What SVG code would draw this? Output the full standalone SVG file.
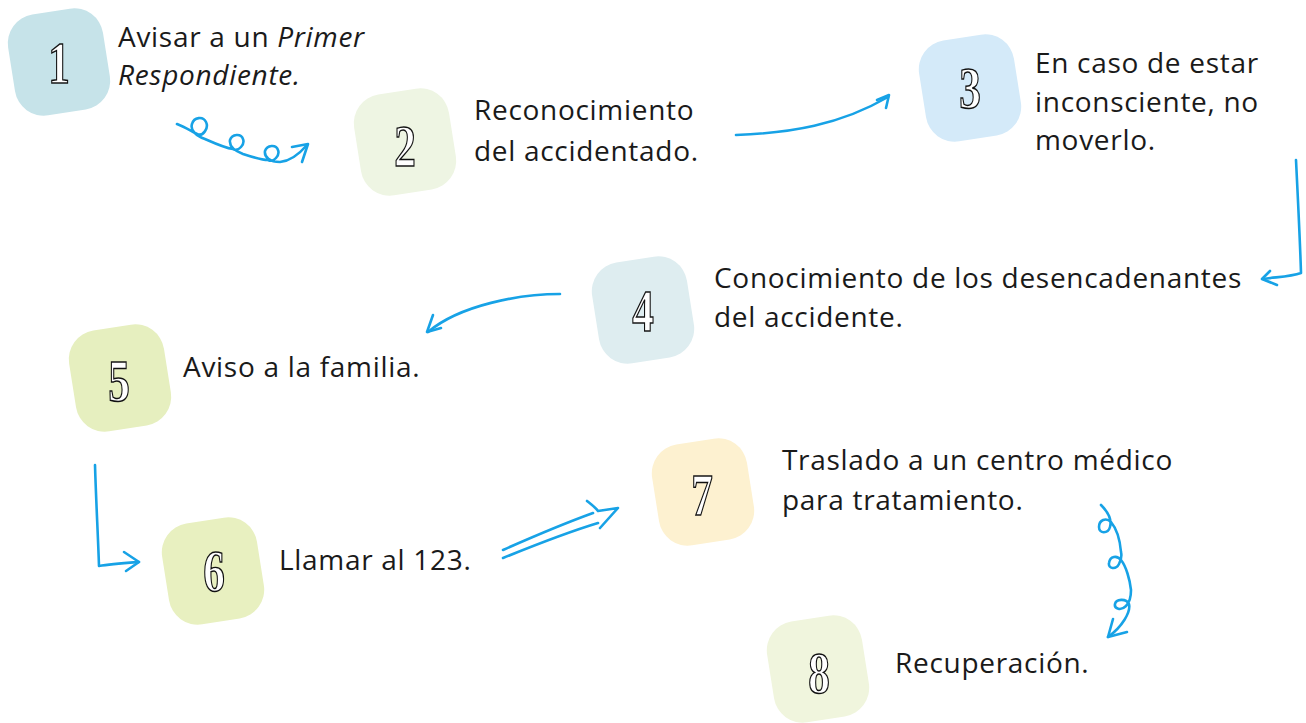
<svg xmlns="http://www.w3.org/2000/svg" width="1306" height="723" viewBox="0 0 1306 723">
<style>
.box{stroke:none}
.lbl{font-family:"Open Sans","Liberation Sans",sans-serif;font-size:28px;letter-spacing:0.7px;fill:#1a1a1a}
.num{font-family:"Liberation Serif","DejaVu Serif",serif;font-size:60px;font-weight:bold;fill:#ffffff;stroke:#111;stroke-width:1.5;text-anchor:middle}
.con{fill:none;stroke:#17a2e6;stroke-width:2.6;stroke-linecap:round;stroke-linejoin:round}
</style>
<rect width="1306" height="723" fill="#ffffff"/>

<g id="node1">
<rect class="box" x="11" y="11" width="96" height="102" rx="29" fill="#c6e3e9" transform="rotate(-9 59 62)"/>
<text class="num" transform="translate(59 83) scale(0.72 1)">1</text>
<text class="lbl" x="118" y="47">Avisar a un <tspan font-style="italic">Primer</tspan></text>
<text class="lbl" x="118" y="85" font-style="italic">Respondiente.</text>
</g>

<g id="node2">
<rect class="box" x="357" y="91" width="96" height="102" rx="29" fill="#eef5e3" transform="rotate(-9 405 142)"/>
<text class="num" transform="translate(405 166) scale(0.72 1)">2</text>
<text class="lbl" x="474" y="120">Reconocimiento</text>
<text class="lbl" x="474" y="161">del accidentado.</text>
</g>

<g id="node3">
<rect class="box" x="922" y="37" width="96" height="102" rx="29" fill="#d4eaf9" transform="rotate(-9 970 88)"/>
<text class="num" transform="translate(970 108) scale(0.72 1)">3</text>
<text class="lbl" x="1035" y="73">En caso de estar</text>
<text class="lbl" x="1035" y="112">inconsciente, no</text>
<text class="lbl" x="1035" y="150">moverlo.</text>
</g>

<g id="node4">
<rect class="box" x="595" y="259" width="96" height="102" rx="29" fill="#deedf0" transform="rotate(-9 643 310)"/>
<text class="num" transform="translate(643 331) scale(0.72 1)">4</text>
<text class="lbl" x="714" y="288">Conocimiento de los desencadenantes</text>
<text class="lbl" x="714" y="327">del accidente.</text>
</g>

<g id="node5">
<rect class="box" x="72" y="327" width="96" height="102" rx="29" fill="#e6efbf" transform="rotate(-9 120 378)"/>
<text class="num" transform="translate(119 401) scale(0.72 1)">5</text>
<text class="lbl" x="183" y="377">Aviso a la familia.</text>
</g>

<g id="node6">
<rect class="box" x="165" y="520" width="96" height="102" rx="29" fill="#e8f0c0" transform="rotate(-9 213 571)"/>
<text class="num" transform="translate(214 591) scale(0.72 1)">6</text>
<text class="lbl" x="279" y="570">Llamar al 123.</text>
</g>

<g id="node7">
<rect class="box" x="655" y="441" width="96" height="102" rx="29" fill="#fdf1d0" transform="rotate(-9 703 492)"/>
<text class="num" transform="translate(702 515) scale(0.72 1)">7</text>
<text class="lbl" x="782" y="470">Traslado a un centro médico</text>
<text class="lbl" x="782" y="510">para tratamiento.</text>
</g>

<g id="node8">
<rect class="box" x="770" y="618" width="96" height="102" rx="29" fill="#f0f5dd" transform="rotate(-9 818 669)"/>
<text class="num" transform="translate(819 693) scale(0.72 1)">8</text>
<text class="lbl" x="895" y="673">Recuperación.</text>
</g>

<g id="connectors">
<path class="con" d="M177,124 C185,127 191,131 197,134 C203,137 209,128 206,122 C203,116 194,117 192,124 C190,130 196,136 205,139 C214,143 225,148 233,149 C239,152 245,144 243,139 C241,133 232,134 230,140 C229,146 235,151 243,154 C252,157 261,160 268,160 C274,163 280,155 278,150 C276,144 267,145 265,151 C264,157 270,162 280,162 C292,161 301,152 307,145"/>
<path class="con" d="M292,147 L308,144 L302,162"/>

<path class="con" d="M736,135 C790,133 840,125 888,97"/>
<path class="con" d="M877,100 L889,95 L886,108"/>

<path class="con" d="M1296,160 C1298,200 1300,240 1301,273 C1290,277 1275,277 1263,279"/>
<path class="con" d="M1270,271 L1262,279 L1277,285"/>

<path class="con" d="M560,294 C520,294 460,305 428,332"/>
<path class="con" d="M433,315 L427,332 L441,328"/>

<path class="con" d="M95,465 C96,500 98,535 99,566 C110,564 125,563 139,562"/>
<path class="con" d="M124,552 L139,562 L126,571"/>

<path class="con" d="M503,550 C530,538 560,525 593,513"/>
<path class="con" d="M503,558 C535,545 565,533 598,523"/>
<path class="con" d="M587,501 C592,505 596,508 598,511 L618,508 L600,528"/>

<path class="con" d="M1101,505 C1108,512 1112,520 1110,527 C1108,534 1099,534 1099,527 C1099,520 1106,517 1111,522 C1116,528 1120,540 1121,552 C1122,556 1121,560 1119,564 C1116,570 1108,569 1109,563 C1110,556 1117,555 1121,560 C1126,566 1130,580 1131,590 C1131,597 1130,602 1126,606 C1121,611 1114,609 1115,604 C1116,599 1126,598 1129,604 C1131,612 1122,627 1108,637"/>
<path class="con" d="M1113,619 L1108,637 L1127,632"/>
</g>
</svg>
